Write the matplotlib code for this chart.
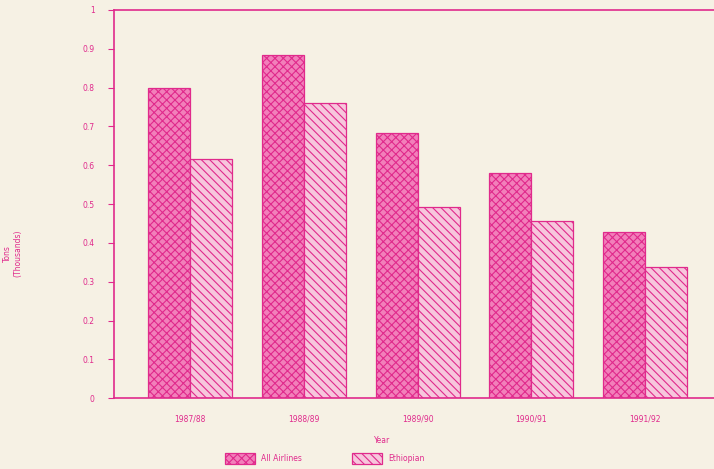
import matplotlib.pyplot as plt
import numpy as np

years = ["1987/88", "1988/89", "1989/90", "1990/91", "1991/92"]
all_airlines = [0.80, 0.883, 0.683, 0.579, 0.429]
ethiopian = [0.615, 0.76, 0.493, 0.457, 0.338]

magenta = "#e02a8c"
paper = "#f6f1e4"

plt.rcParams["hatch.linewidth"] = 0.8

fig = plt.figure(figsize=(7.14, 4.69), dpi=100, facecolor=paper)
ax = fig.add_axes([0.16, 0.151, 0.842, 0.828], facecolor=paper)

x = np.arange(len(years))
w = 0.37
ax.bar(x - w / 2, all_airlines, w, color="#f27fba", edgecolor=magenta,
       hatch="xxxx", linewidth=0.9, label="All Airlines")
ax.bar(x + w / 2, ethiopian, w, color="#f7c6dc", edgecolor=magenta,
       hatch="\\\\\\\\", linewidth=0.9, label="Ethiopian")

ax.set_xlim(-0.67, 4.62)
ax.set_ylim(0, 1)
ax.set_yticks(np.arange(0, 1.01, 0.1))
ax.set_yticklabels(["0"] + [f"{v:.1f}" for v in np.arange(0.1, 0.95, 0.1)] + ["1"])
ax.set_xticks(x)
ax.set_xticklabels(years)

for s in ax.spines.values():
    s.set_color(magenta)
    s.set_linewidth(1.2)
ax.tick_params(axis="y", colors=magenta, labelsize=5.5, length=4, pad=10)
ax.tick_params(axis="x", colors=magenta, labelsize=5.5, length=0, pad=12)

fig.text(0.018, 0.46, "Tons\n(Thousands)", rotation=90, color=magenta,
         fontsize=5.5, ha="center", va="center")
fig.text(0.535, 0.055, "Year", color=magenta, fontsize=5.5, ha="center")

ax.legend(loc="center", bbox_to_anchor=(0.35, -0.155), ncol=2, frameon=False,
          fontsize=5.5, labelcolor=magenta, handlelength=4, handleheight=1.8,
          handletextpad=0.8, columnspacing=6.5)

fig.savefig("out.png", dpi=100, facecolor=paper)
